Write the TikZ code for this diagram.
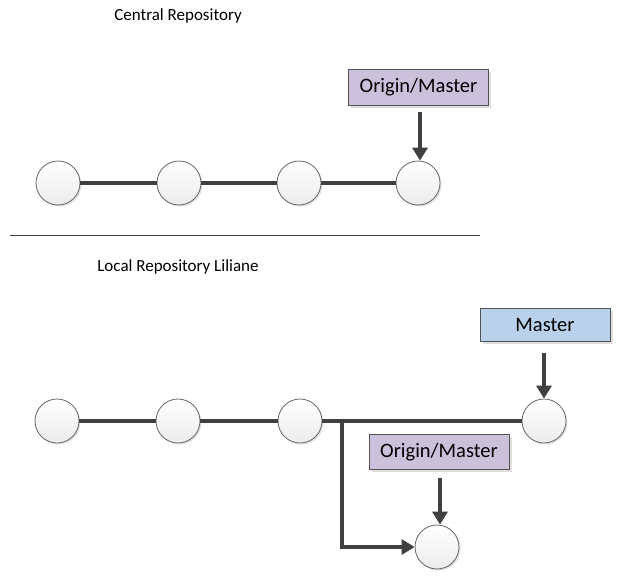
\documentclass[tikz,border=0pt]{standalone}
\usepackage{fontspec}
\setmainfont{Carlito}
\usetikzlibrary{arrows.meta,shadows}
\definecolor{linec}{HTML}{404040}
\definecolor{lav}{HTML}{CCC1DA}
\definecolor{lblue}{HTML}{B9D1EA}
\tikzset{
  commit/.style={circle,minimum size=44pt,inner sep=0pt,draw=linec!80,line width=0.8pt,
    top color=white,bottom color=gray!15,drop shadow={shadow xshift=1.5pt,shadow yshift=-1.5pt,opacity=0.25}},
  refbox/.style={draw=linec!90,line width=0.8pt,inner sep=0pt,font=\fontsize{20.5}{23}\selectfont,
    drop shadow={shadow xshift=2.5pt,shadow yshift=-2.5pt,opacity=0.25}},
  edge/.style={draw=linec,line width=3.5pt},
  ptr/.style={draw=linec,line width=3.5pt,-{Triangle[length=13pt,width=15pt]}},
  lbl/.style={font=\fontsize{17}{19}\selectfont},
}
\begin{document}
\begin{tikzpicture}[x=1pt,y=-1pt]
\useasboundingbox (0,0) rectangle (623,578);
% central
\node[lbl] (ct) at (178,16) {Central Repository};
\node[commit] (c1) at (58,183) {};
\node[commit] (c2) at (179,183) {};
\node[commit] (c3) at (299,183) {};
\node[commit] (c4) at (418,183) {};
\draw[edge] (c1) -- (c2);
\draw[edge] (c2) -- (c3);
\draw[edge] (c3) -- (c4);
\node[refbox,fill=lav,minimum width=140pt,minimum height=36pt] (om1) at (418.5,87) {Origin/Master};
\coordinate (a1s) at (420,112);
\draw[ptr] (a1s) -- (c4.north -| a1s);
% separator
\coordinate (s1) at (10,235);
\coordinate (s2) at (480,235);
\draw[linec,line width=1pt] (s1) -- (s2);
% local
\node[lbl] (lt) at (178,267) {Local Repository Liliane};
\node[commit] (l1) at (57,421) {};
\node[commit] (l2) at (178,421) {};
\node[commit] (l3) at (300,421) {};
\node[commit] (l4) at (544,421) {};
\node[commit] (l5) at (437,547) {};
\draw[edge] (l1) -- (l2);
\draw[edge] (l2) -- (l3);
\draw[edge] (l3) -- (l4);
\coordinate (br) at (342,421);
\draw[ptr] (br) |- (l5);
\node[refbox,fill=lblue,minimum width=130pt,minimum height=33pt] (m) at (545,324.5) {Master};
\coordinate (a2s) at (544,353);
\draw[ptr] (a2s) -- (l4.north -| a2s);
\node[refbox,fill=lav,minimum width=140pt,minimum height=35pt] (om2) at (439,452) {Origin/Master};
\coordinate (a3s) at (440,478);
\draw[ptr] (a3s) -- (l5.north -| a3s);
\end{tikzpicture}
\end{document}
